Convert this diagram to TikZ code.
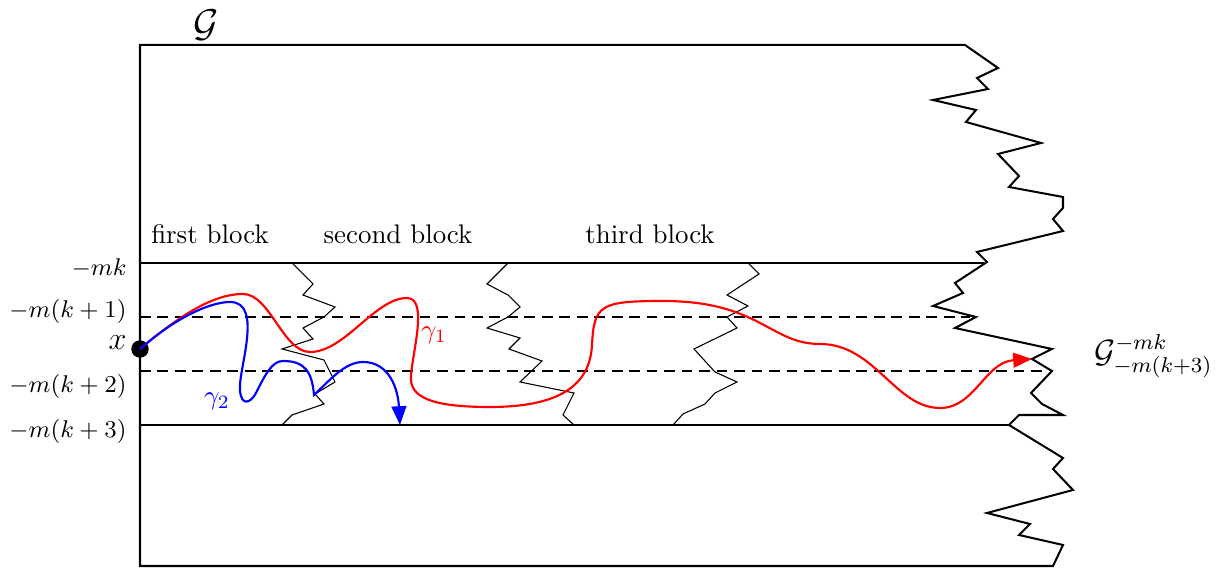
\documentclass[tikz,border=0pt]{standalone}
\usetikzlibrary{arrows.meta}
\begin{document}
\begin{tikzpicture}[x=0.372pt,y=-0.372pt,
  frame/.style={line width=0.75pt, line join=miter},
  boundary/.style={line width=0.4pt},
  level/.style={line width=0.75pt},
  dashlevel/.style={line width=0.4pt, dash pattern=on 4pt off 2.5pt},
  lvl/.style={anchor=east, font=\small, inner sep=0pt},
  blk/.style={inner sep=0pt},
  gone/.style={red, line width=0.8pt},
  gtwo/.style={blue, line width=0.8pt},
  tip/.style={-{Triangle[length=7pt,width=5.5pt]}}]
\useasboundingbox (0,0) rectangle (1220,570);

% outer frame with jagged right side
\draw[frame] (140,566) -- (140,45) -- (965,45) -- (998,68) -- (977,78) -- (988,89)
  -- (933,100) -- (976,110) -- (966,122) -- (1041,143) -- (998,154) -- (1019,176)
  -- (1009,187) -- (1063,197) -- (1063,208) -- (1053,219) -- (1063,231) -- (977,252)
  -- (987,262) -- (955,283) -- (963,293) -- (933,306) -- (976,317) -- (955,328)
  -- (1052,349) -- (1032,359) -- (1052,371) -- (1031,393) -- (1042,404) -- (1063,415)
  -- (1019,415) -- (1009,425) -- (1063,458) -- (1053,469) -- (1073,490) -- (987,513)
  -- (1030,524) -- (1019,535) -- (1063,545) -- (1053,566) -- cycle;

% level lines
\coordinate (l0a) at (140,263); \coordinate (l0b) at (984,263);
\coordinate (l1a) at (140,317); \coordinate (l1b) at (970,317);
\coordinate (l2a) at (140,371); \coordinate (l2b) at (1048,371);
\coordinate (l3a) at (140,425); \coordinate (l3b) at (1009,425);
\draw[level] (l0a) -- (l0b);
\draw[dashlevel] (l1a) -- (l1b);
\draw[dashlevel] (l2a) -- (l2b);
\draw[level] (l3a) -- (l3b);

% block boundaries
\draw[boundary] (292,263) -- (313,284) -- (303,295) -- (335,307) -- (324,317) -- (303,328)
  -- (313,339) -- (282,349) -- (324,360) -- (335,382) -- (315,394) -- (324,404)
  -- (292,415) -- (282,425);
\draw[boundary] (508,263) -- (487,284) -- (508,295) -- (520,307) -- (508,317) -- (487,328)
  -- (520,338) -- (509,349) -- (542,361) -- (520,382) -- (574,393) -- (563,415) -- (574,425);
\draw[boundary] (748,263) -- (759,274) -- (727,295) -- (748,306) -- (727,317) -- (737,328)
  -- (694,349) -- (715,372) -- (737,382) -- (715,393) -- (705,404) -- (683,414) -- (673,425);

% start point
\node[circle, fill=black, inner sep=0pt, minimum size=6.5pt] (x) at (140,349) {};
\node[anchor=east, inner sep=0pt, font=\large] (xlab) at (127,343) {$x$};
\coordinate (r1) at (1032,359);
\coordinate (b1end) at (400,425);

% curves
\draw[gone, tip] (x.center) .. controls (175,320) and (210,294) .. (243,294)
  .. controls (270,294) and (283,352) .. (310,352)
  .. controls (345,352) and (375,298) .. (407,298)
  .. controls (430,298) and (410,360) .. (411,380)
  .. controls (412,400) and (440,407) .. (490,407)
  .. controls (560,407) and (590,385) .. (592,345)
  .. controls (594,305) and (600,301) .. (663,301)
  .. controls (760,301) and (770,344) .. (820,344)
  .. controls (875,344) and (895,408) .. (940,408)
  .. controls (975,408) and (985,362) .. (r1);
\draw[gtwo, tip] (x.center) .. controls (175,318) and (210,302) .. (230,302)
  .. controls (264,302) and (238,370) .. (240,390)
  .. controls (241,406) and (250,404) .. (256,393)
  .. controls (265,375) and (272,361) .. (283,361)
  .. controls (305,361) and (312,372) .. (314,395)
  .. controls (330,380) and (345,362) .. (363,362)
  .. controls (390,362) and (398,390) .. (b1end);
\node[red, inner sep=0pt] (g1) at (434,335) {$\gamma_1$};
\node[blue, inner sep=0pt] (g2) at (217,401) {$\gamma_2$};

% labels
\node[lvl] (t0) at (127,268) {$-mk$};
\node[lvl] (t1) at (127,311) {$-m(k+1)$};
\node[lvl] (t2) at (127,386) {$-m(k+2)$};
\node[lvl] (t3) at (127,431) {$-m(k+3)$};
\node[blk] (bl1) at (210,234) {first block};
\node[blk] (bl2) at (398,234) {second block};
\node[blk] (bl3) at (650,234) {third block};
\node[inner sep=0pt, font=\Large] (G) at (206,25) {$\mathcal{G}$};
\node[inner sep=0pt, anchor=west, font=\large] (Gsub) at (1094,356) {$\mathcal{G}_{-m(k+3)}^{-mk}$};
\end{tikzpicture}
\end{document}
